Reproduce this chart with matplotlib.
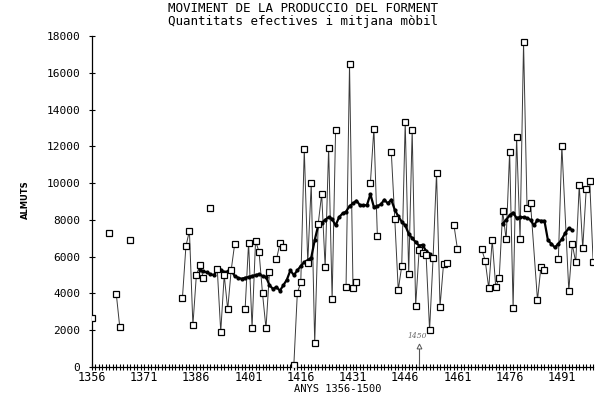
import numpy as np
import matplotlib
matplotlib.use("Agg")
import matplotlib.pyplot as plt

# ---- data (None = break in the series) ----
prod_years = [1356, None, 1361, None, 1363, 1364, None, 1367, None,
              1382, 1383, 1384, 1385, 1386, 1387, 1388, None, 1390, None,
              1392, 1393, 1394, 1395, 1396, 1397, None,
              1400, 1401, 1402, 1403, 1404, 1405, 1406, 1407, None,
              1409, 1410, 1411, None,
              1414, 1415, 1416, 1417, 1418, 1419, 1420, 1421, 1422, 1423, 1424, 1425, 1426, None,
              1429, 1430, 1431, 1432, None,
              1436, 1437, 1438, None,
              1442, 1443, 1444, 1445, 1446, 1447, 1448, 1449, 1450, 1451, 1452, 1453, 1454, 1455,
              1456, 1457, 1458, None,
              1460, 1461, None,
              1468, 1469, 1470, 1471, 1472, 1473, 1474, 1475, 1476, 1477, 1478, 1479, 1480, 1481,
              1482, 1484, 1485, 1486, None,
              1490, 1491, 1493, 1494, 1495, 1496, 1497, 1498, 1499, 1500]
prod_vals = [2650, None, 7300, None, 3950, 2150, None, 6900, None,
             3770, 6580, 7400, 2280, 5000, 5530, 4860, None, 8630, None,
             5330, 1920, 5000, 3130, 5270, 6690, None,
             3150, 6760, 2140, 6850, 6270, 4000, 2100, 5180, None,
             5850, 6720, 6540, None,
             100, 4000, 4640, 11850, 5670, 9990, 1290, 7780, 9410, 5420, 11930, 3680, 12890, None,
             4370, 16480, 4280, 4640, None,
             10020, 12970, 7140, None,
             11690, 8050, 4190, 5490, 13340, 5060, 12890, 3320, 6360, 6180, 6090, 2010, 5910, 10570,
             3280, 5580, 5640, None,
             7720, 6420, None,
             6400, 5760, 4280, 6910, 4370, 4820, 8480, 6940, 11710, 3230, 12520, 6960, 17650, 8660,
             8930, 3640, 5450, 5270, None,
             5860, 12040, 4150, 6670, 5690, 9900, 6450, 9660, 10130, 5690]

ma_years = list(range(1387, 1454)) + [None] + list(range(1474, 1495))
ma_vals = [5300, 5200, 5150, 5050, 5000, 5250, 5300, 5150, 5200, 5250,
           4950, 4850, 4800, 4850, 4900, 4950, 5000, 5050, 4950, 4900,
           4450, 4250, 4350, 4150, 4450, 4750, 5250, 5000, 5250, 5500,
           5700, 5800, 5950, 6900, 7700, 7850, 8000, 8150, 8050, 7700,
           8150, 8350, 8450, 8750, 8900, 9050, 8800, 8800, 8800, 9400,
           8700, 8750, 8850, 9100, 8900, 9100, 8550, 8200, 7900, 7700,
           7250, 7000, 6800, 6600, 6650, 6300, 6150,
           None,
           7800, 8000, 8250, 8400, 8100, 8150, 8150, 8100, 8000, 7700,
           8000, 7950, 7950, 6900, 6700, 6500, 6700, 6950, 7300, 7550, 7450]

tick_years = list(range(1356, 1492, 15))
minor_years = list(range(1356, 1501))
y_ticks = list(range(0, 18001, 2000))
note_year = 1450
note_text = "1450"

title1 = "MOVIMENT DE LA PRODUCCIO DEL FORMENT"
title2 = "Quantitats efectives i mitjana mòbil"
xlabel = "ANYS 1356-1500"
ylabel = "ALMUTS"

mono = "DejaVu Sans Mono"

fig = plt.figure(figsize=(6.09, 3.94), dpi=100)
ax = fig.add_axes([0.151, 0.0685, 0.823, 0.840])

px = np.array(prod_years, dtype=float)
pv = np.array(prod_vals, dtype=float)
mx = np.array(ma_years, dtype=float)
mv = np.array(ma_vals, dtype=float)

ax.plot(px, pv, color="#3a3a3a", lw=0.7, zorder=2)
ax.plot(mx, mv, color="black", lw=1.6, marker="o", ms=2.0, zorder=3)
ax.plot(px, pv, ls="none", marker="s", ms=4.2, mfc="white", mec="black", mew=0.9, zorder=4)

# hand-written annotation
ax.plot([note_year, note_year], [0, 1000], color="#555555", lw=0.8, zorder=2)
ax.plot([note_year], [1150], marker="^", ms=3.5, mfc="white", mec="#555555", mew=0.7, zorder=3)
ax.text(note_year - 0.5, 1700, note_text, fontsize=5.5, color="#666666", ha="center", va="center",
        family="DejaVu Serif", style="italic")

ax.set_xlim(1356, 1500)
ax.set_ylim(0, 18000)
ax.set_xticks(tick_years)
ax.set_xticks(minor_years, minor=True)
ax.set_yticks(y_ticks)
ax.set_xticklabels([str(t) for t in tick_years], family=mono, fontsize=8.5)
ax.set_yticklabels([str(t) for t in y_ticks], family=mono, fontsize=8)
ax.tick_params(axis="x", which="both", direction="inout", length=5, width=0.8, pad=0.5)
ax.tick_params(axis="y", which="major", direction="inout", length=5, width=0.8, pad=6)

for s in ["top", "right"]:
    ax.spines[s].set_visible(False)
for s in ["left", "bottom"]:
    ax.spines[s].set_linewidth(0.9)

fig.text(338 / 609, 1 - 389 / 394, xlabel, family=mono, fontsize=7.5, ha="center", va="center")
fig.text(25 / 609, 1 - 200 / 394, ylabel, rotation=90, fontsize=6, fontweight="bold",
         ha="center", va="center", family="DejaVu Sans")

fig.text(303 / 609, 1 - 15 / 394, title1 + "\n" + title2, family=mono, fontsize=9,
         ha="center", va="center", multialignment="center", linespacing=1.0)

fig.savefig("out.png", dpi=100)
